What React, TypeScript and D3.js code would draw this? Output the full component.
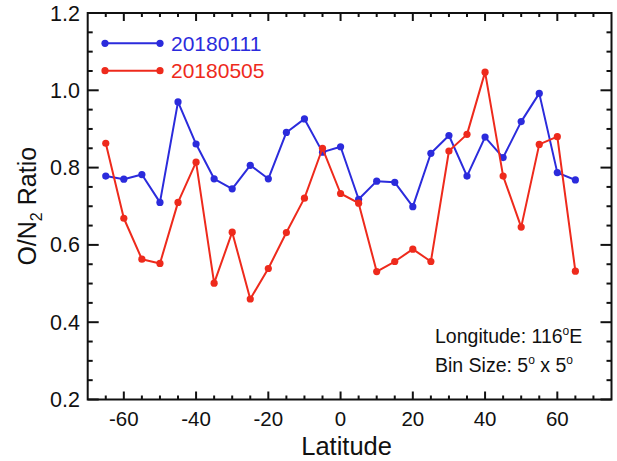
import React from "react";
import * as d3 from "d3";

const latitudes = [-65, -60, -55, -50, -45, -40, -35, -30, -25, -20, -15, -10, -5, 0, 5, 10, 15, 20, 25, 30, 35, 40, 45, 50, 55, 60, 65];
const series20180111 = [0.778, 0.770, 0.782, 0.710, 0.970, 0.861, 0.771, 0.745, 0.806, 0.771, 0.891, 0.926, 0.840, 0.854, 0.718, 0.765, 0.762, 0.699, 0.837, 0.883, 0.778, 0.879, 0.826, 0.919, 0.992, 0.787, 0.768];
const series20180505 = [0.863, 0.669, 0.563, 0.552, 0.710, 0.814, 0.501, 0.633, 0.460, 0.539, 0.632, 0.721, 0.850, 0.733, 0.708, 0.531, 0.557, 0.589, 0.557, 0.843, 0.886, 1.047, 0.778, 0.646, 0.860, 0.880, 0.532];
const seriesNames = ["20180111", "20180505"];
const seriesColors = ["#2b2bdc", "#ee2a1c"];
const xTicks = [-60, -40, -20, 0, 20, 40, 60];
const yTicks = [0.2, 0.4, 0.6, 0.8, 1.0, 1.2];

const W = 617;
const H = 461;
const left = 87.7, right = 611.5, top = 13, bottom = 399.5;
const FONT = "'Liberation Sans', Arial, Helvetica, sans-serif";

export default function App() {
  const x = d3.scaleLinear().domain([-70, 75]).range([left, right]);
  const y = d3.scaleLinear().domain([0.2, 1.2]).range([bottom, top]);
  const xMinor = d3.range(-65, 75, 5).filter((v) => v % 20 !== 0);
  const yMinor = d3.range(0.25, 1.2, 0.05).map((v) => +v.toFixed(2)).filter((v) => Math.abs((v * 10) % 2) > 0.01 && Math.abs((v * 10) % 2 - 2) > 0.01);
  const line = d3.line<number>().x((_, i) => x(latitudes[i])).y((d) => y(d));
  const allSeries = [series20180111, series20180505];

  return (
    <svg width={W} height={H} style={{ position: "absolute", left: 0, top: 0, background: "#fff" }} fontFamily={FONT}>
      <rect x={0} y={0} width={W} height={H} fill="#fff" />
      {allSeries.map((s, si) => (
        <g key={si}>
          <path d={line(s) || ""} fill="none" stroke={seriesColors[si]} strokeWidth={2} strokeLinejoin="round" />
          {s.map((v, i) => (
            <circle key={i} cx={x(latitudes[i])} cy={y(v)} r={3.6} fill={seriesColors[si]} />
          ))}
        </g>
      ))}
      <rect x={left} y={top} width={right - left} height={bottom - top} fill="none" stroke="#111" strokeWidth={2} />
      {xTicks.map((t) => (
        <g key={"xt" + t}>
          <line x1={x(t)} x2={x(t)} y1={bottom} y2={bottom - 8} stroke="#111" strokeWidth={2} />
          <line x1={x(t)} x2={x(t)} y1={top} y2={top + 8} stroke="#111" strokeWidth={2} />
          <text x={x(t)} y={425.5} textAnchor="middle" fontSize={20.5} fill="#111">{t}</text>
        </g>
      ))}
      {xMinor.map((t) => (
        <g key={"xm" + t}>
          <line x1={x(t)} x2={x(t)} y1={bottom} y2={bottom - 4} stroke="#111" strokeWidth={2} />
          <line x1={x(t)} x2={x(t)} y1={top} y2={top + 4} stroke="#111" strokeWidth={2} />
        </g>
      ))}
      {yTicks.map((t) => (
        <g key={"yt" + t}>
          <line x1={left} x2={left + 11} y1={y(t)} y2={y(t)} stroke="#111" strokeWidth={2} />
          <line x1={right} x2={right - 11} y1={y(t)} y2={y(t)} stroke="#111" strokeWidth={2} />
          <text x={80} y={y(t) + 7.5} textAnchor="end" fontSize={21.5} fill="#111">{t.toFixed(1)}</text>
        </g>
      ))}
      {yMinor.map((t) => (
        <g key={"ym" + t}>
          <line x1={left} x2={left + 5} y1={y(t)} y2={y(t)} stroke="#111" strokeWidth={2} />
          <line x1={right} x2={right - 5} y1={y(t)} y2={y(t)} stroke="#111" strokeWidth={2} />
        </g>
      ))}
      <text x={(left + right) / 2 - 3} y={455} textAnchor="middle" fontSize={25.5} fill="#111">Latitude</text>
      <text transform={`translate(36, ${(top + bottom) / 2}) rotate(-90)`} textAnchor="middle" fontSize={25} fill="#111">
        O/N<tspan fontSize={16} dy={6}>2</tspan><tspan dy={-6}> Ratio</tspan>
      </text>
      {seriesNames.map((n, i) => {
        const ly = 43.3 + i * 27.4;
        return (
          <g key={n}>
            <line x1={105} x2={160} y1={ly} y2={ly} stroke={seriesColors[i]} strokeWidth={2} />
            <circle cx={105} cy={ly} r={3.6} fill={seriesColors[i]} />
            <circle cx={160} cy={ly} r={3.6} fill={seriesColors[i]} />
            <text x={171} y={ly + 7.5} fontSize={21} fill={seriesColors[i]}>{n}</text>
          </g>
        );
      })}
      <text x={435} y={343} fontSize={19.5} fill="#111">
        Longitude: 116<tspan fontSize={12} dy={-8}>o</tspan><tspan dy={8}>E</tspan>
      </text>
      <text x={435} y={372} fontSize={19.5} fill="#111">
        Bin Size: 5<tspan fontSize={12} dy={-8}>o</tspan><tspan dy={8}> x 5</tspan><tspan fontSize={12} dy={-8}>o</tspan>
      </text>
    </svg>
  );
}
